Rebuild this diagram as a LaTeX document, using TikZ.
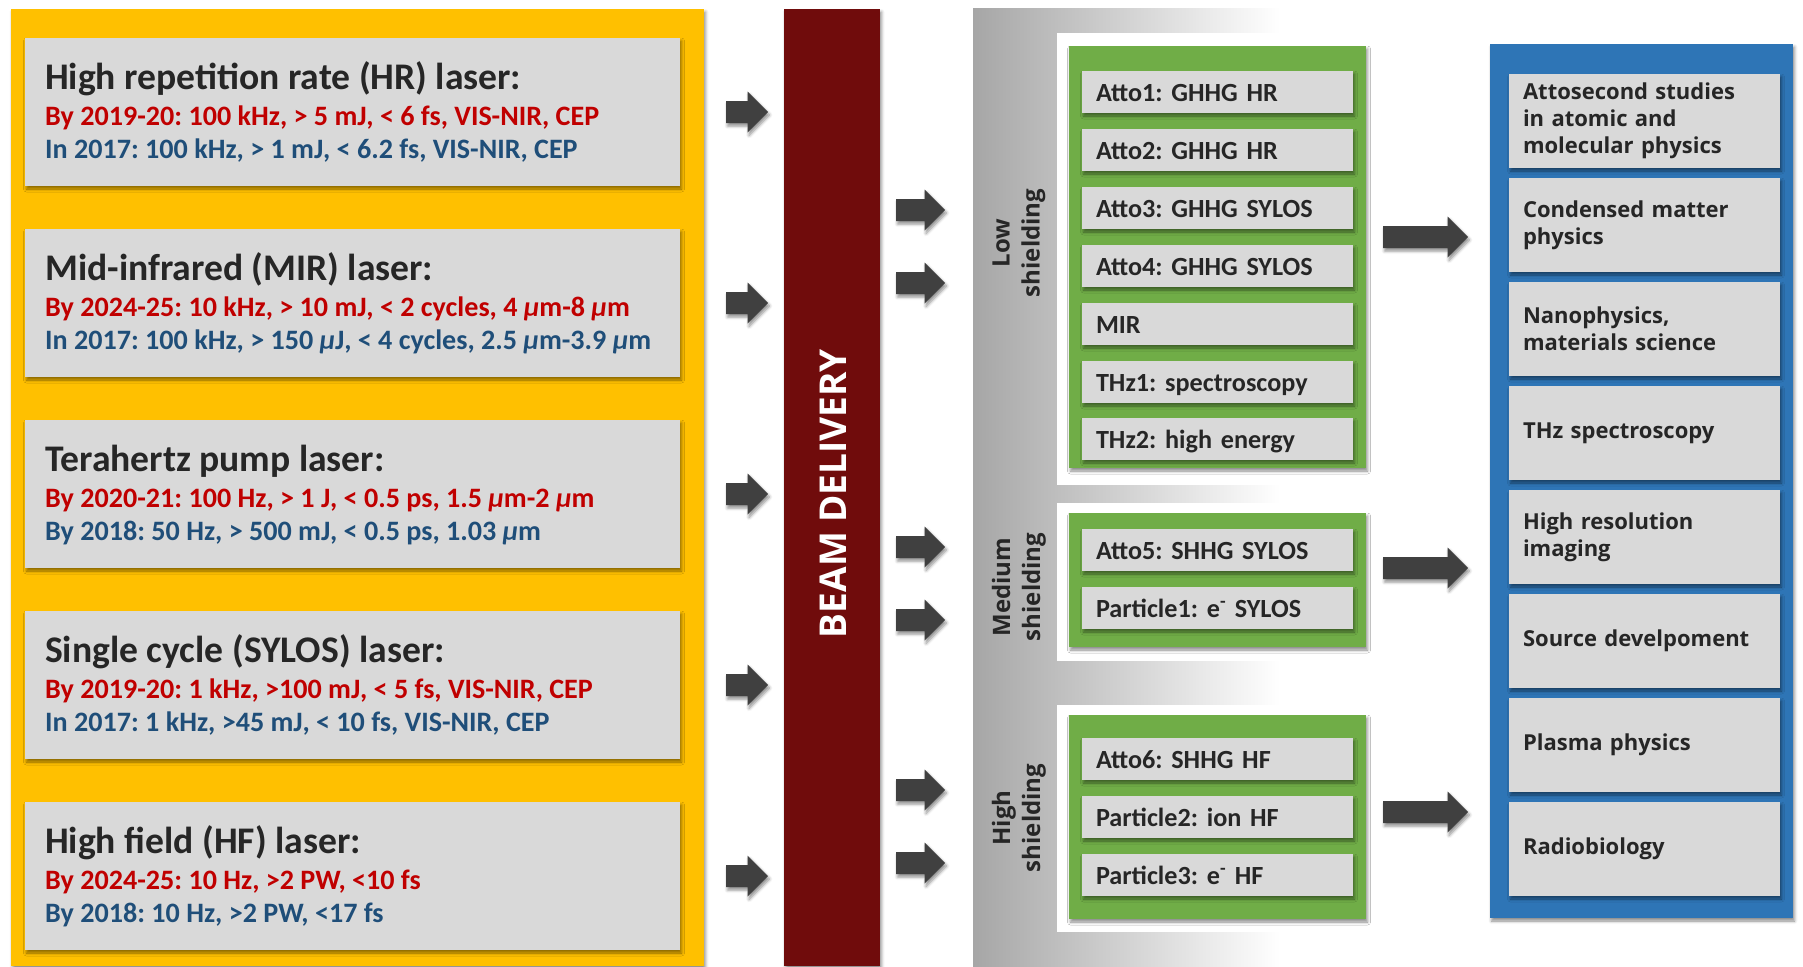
\documentclass[tikz,border=0pt]{standalone}
\usepackage{fontspec}
\setmainfont{Carlito}
\setsansfont{Open Sans}
\usetikzlibrary{positioning, shadows.blur}
\frenchspacing

\definecolor{laseryellow}{HTML}{FFC000}
\definecolor{boxgray}{HTML}{D9D9D9}
\definecolor{planred}{HTML}{C00000}
\definecolor{nowblue}{HTML}{1F4E79}
\definecolor{textdark}{HTML}{262626}
\definecolor{beamred}{HTML}{700C0C}
\definecolor{arrowgray}{HTML}{404040}
\definecolor{shieldgray}{HTML}{A6A6A6}
\definecolor{panelgreen}{HTML}{70AD47}
\definecolor{panelblue}{HTML}{2E75B6}

\begin{document}
\begin{tikzpicture}[
    x=1pt, y=-1pt,
    % Shadows and panels
    softshadow/.style={blur shadow={shadow xshift=1.5pt, shadow yshift=-3pt,
        shadow blur radius=3pt, shadow opacity=45}},
    panel/.style={rectangle, inner sep=0pt, softshadow},
    % Laser boxes on the yellow panel
    laserbox/.style={panel, fill=boxgray, minimum width=655pt, minimum height=148pt},
    lasertitle/.style={anchor=base west, inner sep=0pt, text=textdark,
        font=\fontsize{37.6}{44}\selectfont\bfseries},
    laserplan/.style={anchor=base west, inner sep=0pt, text=planred,
        font=\fontsize{28.1}{33}\selectfont\bfseries},
    lasernow/.style={laserplan, text=nowblue},
    % Stations and fields
    station/.style={panel, fill=boxgray, minimum width=271pt, minimum height=42pt,
        text width=243pt, inner xsep=14pt, align=left, text height=18pt, text depth=0pt,
        text=textdark, font=\fontsize{26.2}{30}\selectfont\bfseries},
    field/.style={panel, fill=boxgray, minimum width=271pt, minimum height=94pt,
        text width=243pt, inner xsep=14pt, align=left, text=textdark,
        font=\sffamily\bfseries\fontsize{22}{27}\selectfont},
    shieldlabel/.style={rotate=90, align=center, text=textdark,
        font=\sffamily\bfseries\fontsize{24}{30}\selectfont},
    % Block arrow, #1 = length
    blockarrow/.pic={\fill[arrowgray, softshadow] (0,-11) -- (#1-20.5,-11) -- (#1-20.5,-20.5)
        -- (#1,0) -- (#1-20.5,20.5) -- (#1-20.5,11) -- (0,11) -- cycle;}
]
\useasboundingbox (0,0) rectangle (1803,966);

% --- Lasers ---
\node[panel, fill=laseryellow, minimum width=693pt, minimum height=957pt] (lasers) at (357.5,487.5) {};

\node[laserbox] (hr) at (352.5,112) {};
\node[lasertitle] (hr-title) at (45,89) {High repetition rate (HR) laser:};
\node[laserplan] (hr-plan) at (45,125) {By 2019-20: 100 kHz, > 5 mJ, < 6 fs, VIS-NIR, CEP};
\node[lasernow] (hr-now) at (45,158) {In 2017: 100 kHz, > 1 mJ, < 6.2 fs, VIS-NIR, CEP};

\node[laserbox] (mir) at (352.5,303) {};
\node[lasertitle] (mir-title) at (45,280) {Mid-infrared (MIR) laser:};
\node[laserplan] (mir-plan) at (45,316) {By 2024-25: 10 kHz, > 10 mJ, < 2 cycles, 4 \textit{μ}m-8 \textit{μ}m};
\node[lasernow] (mir-now) at (45,349) {In 2017: 100 kHz, > 150 \textit{μ}J, < 4 cycles, 2.5 \textit{μ}m-3.9 \textit{μ}m};

\node[laserbox] (thz) at (352.5,494) {};
\node[lasertitle] (thz-title) at (45,471) {Terahertz pump laser:};
\node[laserplan] (thz-plan) at (45,507) {By 2020-21: 100 Hz, > 1 J, < 0.5 ps, 1.5 \textit{μ}m-2 \textit{μ}m};
\node[lasernow] (thz-now) at (45,540) {By 2018: 50 Hz, > 500 mJ, < 0.5 ps, 1.03 \textit{μ}m};

\node[laserbox] (sylos) at (352.5,685) {};
\node[lasertitle] (sylos-title) at (45,662) {Single cycle (SYLOS) laser:};
\node[laserplan] (sylos-plan) at (45,698) {By 2019-20: 1 kHz, >100 mJ, < 5 fs, VIS-NIR, CEP};
\node[lasernow] (sylos-now) at (45,731) {In 2017: 1 kHz, >45 mJ, < 10 fs, VIS-NIR, CEP};

\node[laserbox] (hf) at (352.5,876) {};
\node[lasertitle] (hf-title) at (45,853) {High field (HF) laser:};
\node[laserplan] (hf-plan) at (45,889) {By 2024-25: 10 Hz, >2 PW, <10 fs};
\node[lasernow] (hf-now) at (45,922) {By 2018: 10 Hz, >2 PW, <17 fs};

% --- Beam delivery ---
\pic at (726,112) {blockarrow=42};
\pic at (726,303) {blockarrow=42};
\pic at (726,494) {blockarrow=42};
\pic at (726,685) {blockarrow=42};
\pic at (726,876) {blockarrow=42};

\node[panel, fill=beamred, minimum width=96pt, minimum height=957pt] (beam) at (832,487.5) {};
\node[rotate=90, text=white, font=\sffamily\bfseries\fontsize{37}{44}\selectfont] (beam-label) at (833,493.5) {BEAM DELIVERY};

\pic at (896,210) {blockarrow=49};
\pic at (896,283) {blockarrow=49};
\pic at (896,547) {blockarrow=49};
\pic at (896,620) {blockarrow=49};
\pic at (896,790) {blockarrow=49};
\pic at (896,863) {blockarrow=49};

% --- Shielding areas ---
\shade[left color=shieldgray, right color=white] (973,9) rectangle (1280,966);
\fill[white] (1057,33) rectangle (1380,485);
\fill[white] (1057,503) rectangle (1380,661);
\fill[white] (1057,705) rectangle (1380,932);

\node[shieldlabel] (low-label) at (1019,243) {Low\\shielding};
\node[shieldlabel] (medium-label) at (1019,587) {Medium\\shielding};
\node[shieldlabel] (high-label) at (1019,818) {High\\shielding};

% Low shielding stations
\node[panel, fill=panelgreen, minimum width=297pt, minimum height=422pt] (low) at (1217.5,257) {};
\node[station] (atto1) at (1217.5,92) {Atto1: GHHG HR};
\node[station] (atto2) at (1217.5,150) {Atto2: GHHG HR};
\node[station] (atto3) at (1217.5,208) {Atto3: GHHG SYLOS};
\node[station] (atto4) at (1217.5,266) {Atto4: GHHG SYLOS};
\node[station] (mir-st) at (1217.5,324) {MIR};
\node[station] (thz1) at (1217.5,382) {THz1: spectroscopy};
\node[station] (thz2) at (1217.5,439) {THz2: high energy};

% Medium shielding stations
\node[panel, fill=panelgreen, minimum width=297pt, minimum height=134pt] (medium) at (1217.5,580) {};
\node[station] (atto5) at (1217.5,550) {Atto5: SHHG SYLOS};
\node[station] (particle1) at (1217.5,608) {Particle1: e\textsuperscript{-} SYLOS};

% High shielding stations
\node[panel, fill=panelgreen, minimum width=297pt, minimum height=204pt] (high) at (1217.5,817) {};
\node[station] (atto6) at (1217.5,759) {Atto6: SHHG HF};
\node[station] (particle2) at (1217.5,817) {Particle2: ion HF};
\node[station] (particle3) at (1217.5,875) {Particle3: e\textsuperscript{-} HF};

% --- Research fields ---
\pic at (1383,237) {blockarrow=85};
\pic at (1383,568) {blockarrow=85};
\pic at (1383,812) {blockarrow=85};

\node[panel, fill=panelblue, minimum width=303pt, minimum height=874pt] (fields) at (1641.5,481) {};
\node[field] (atto-field) at (1644.5,121) {Attosecond studies\\in atomic and\\molecular physics};
\node[field] (condensed) at (1644.5,225) {Condensed matter\\physics};
\node[field] (nano) at (1644.5,329) {Nanophysics,\\materials science};
\node[field] (thz-field) at (1644.5,433) {THz spectroscopy};
\node[field] (imaging) at (1644.5,537) {High resolution\\imaging};
\node[field] (source) at (1644.5,641) {Source develpoment};
\node[field] (plasma) at (1644.5,745) {Plasma physics};
\node[field] (radio) at (1644.5,849) {Radiobiology};

\end{tikzpicture}
\end{document}
